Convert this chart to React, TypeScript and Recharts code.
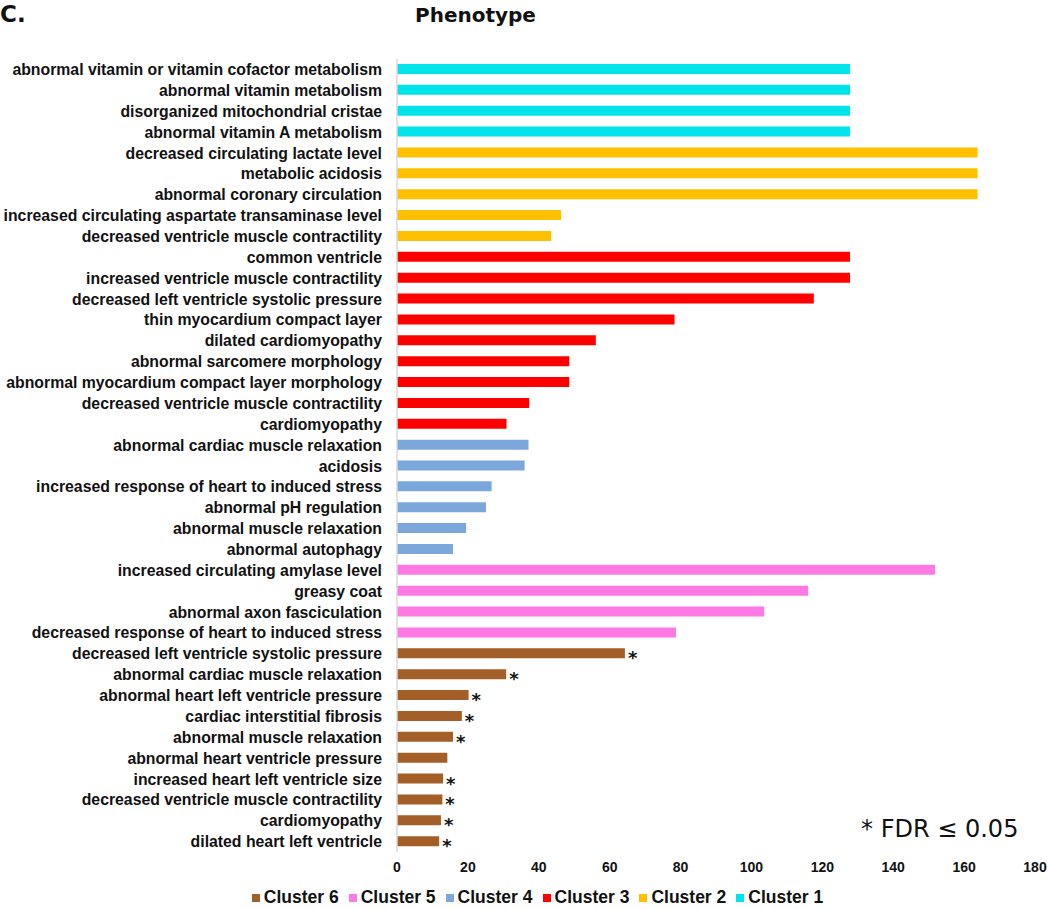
import { Bar, BarChart, Legend, Rectangle, XAxis, YAxis } from "recharts";

const phenotypes = [
  "abnormal vitamin or vitamin cofactor metabolism",
  "abnormal vitamin metabolism",
  "disorganized mitochondrial cristae",
  "abnormal vitamin A metabolism",
  "decreased circulating lactate level",
  "metabolic acidosis",
  "abnormal coronary circulation",
  "increased circulating aspartate transaminase level",
  "decreased ventricle muscle contractility",
  "common ventricle",
  "increased ventricle muscle contractility",
  "decreased left ventricle systolic pressure",
  "thin myocardium compact layer",
  "dilated cardiomyopathy",
  "abnormal sarcomere morphology",
  "abnormal myocardium compact layer morphology",
  "decreased ventricle muscle contractility",
  "cardiomyopathy",
  "abnormal cardiac muscle relaxation",
  "acidosis",
  "increased response of heart to induced stress",
  "abnormal pH regulation",
  "abnormal muscle relaxation",
  "abnormal autophagy",
  "increased circulating amylase level",
  "greasy coat",
  "abnormal axon fasciculation",
  "decreased response of heart to induced stress",
  "decreased left ventricle systolic pressure",
  "abnormal cardiac muscle relaxation",
  "abnormal heart left ventricle pressure",
  "cardiac interstitial fibrosis",
  "abnormal muscle relaxation",
  "abnormal heart ventricle pressure",
  "increased heart left ventricle size",
  "decreased ventricle muscle contractility",
  "cardiomyopathy",
  "dilated heart left ventricle",
];

const enrichment = [
  127.8, 127.8, 127.8, 127.8,
  163.8, 163.8, 163.8, 46.3, 43.5,
  127.8, 127.8, 117.6, 78.3, 56.1, 48.6, 48.6, 37.3, 30.9,
  37.1, 36.0, 26.7, 25.1, 19.5, 15.8,
  151.8, 116.0, 103.6, 78.7,
  64.3, 30.8, 20.2, 18.3, 15.8, 14.2, 13.0, 12.8, 12.4, 11.9,
];

const clusterOf = [
  1, 1, 1, 1,
  2, 2, 2, 2, 2,
  3, 3, 3, 3, 3, 3, 3, 3, 3,
  4, 4, 4, 4, 4, 4,
  5, 5, 5, 5,
  6, 6, 6, 6, 6, 6, 6, 6, 6, 6,
];

// FDR <= 0.05 marks (cluster 6 rows)
const significant = [
  false, false, false, false,
  false, false, false, false, false,
  false, false, false, false, false, false, false, false, false,
  false, false, false, false, false, false,
  false, false, false, false,
  true, true, true, true, true, false, true, true, true, true,
];

const legendOrder = [6, 5, 4, 3, 2, 1];
const clusterColors: Record<number, string> = {
  1: "#00E3EA",
  2: "#FFC000",
  3: "#FF0000",
  4: "#7BA7DC",
  5: "#FF79E4",
  6: "#A45E27",
};
const xTicks = [0, 20, 40, 60, 80, 100, 120, 140, 160, 180];

const rows = phenotypes.map((name, i) => {
  const row: Record<string, number | string | undefined> = { id: i, name, star: significant[i] ? 1 : 0 };
  row["c" + clusterOf[i]] = enrichment[i];
  return row;
});

const labelFont = "'Liberation Sans', Arial, sans-serif";

function StarBar(props: any) {
  const { x, y, width, height, fill, payload } = props;
  if (!width) return null;
  return (
    <g>
      <Rectangle x={x} y={y} width={width} height={height} fill={fill} />
      {payload && payload.star ? (
        <text x={x + width + 3} y={y + height / 2 + 11} fontSize={18} fontWeight="bold" fill="#111" fontFamily="'DejaVu Sans', sans-serif">
          *
        </text>
      ) : null}
    </g>
  );
}

export default function App() {
  return (
    <div style={{ position: "absolute", left: 0, top: 0, width: 1050, height: 909, background: "#fff" }}>
      <div style={{ position: "absolute", left: 0, top: -1, fontFamily: "'DejaVu Sans', sans-serif", fontWeight: 700, fontSize: 23, color: "#111", lineHeight: "30px" }}>
        C.
      </div>
      <div style={{ position: "absolute", left: 415, top: 0, fontFamily: "'DejaVu Sans', sans-serif", fontWeight: 700, fontSize: 20, color: "#111", lineHeight: "30px" }}>
        Phenotype
      </div>
      <div style={{ position: "absolute", left: 861, top: 814, fontFamily: "'DejaVu Sans', sans-serif", fontSize: 24, color: "#111", lineHeight: "30px" }}>
        * FDR ≤ 0.05
      </div>
      <BarChart
        width={1050}
        height={909}
        data={rows}
        layout="vertical"
        margin={{ top: 59, right: 15, left: 0, bottom: 1 }}
        barSize={10}
      >
        <XAxis
          type="number"
          domain={[0, 180]}
          ticks={xTicks}
          axisLine={false}
          tickLine={false}
          tickSize={0}
          tickMargin={10}
          height={35}
          tick={{ fill: "#111", fontSize: 14, fontWeight: "bold", fontFamily: labelFont }}
        />
        <YAxis
          type="category"
          dataKey="id"
          width={397}
          tickFormatter={(v: number) => phenotypes[v]}
          interval={0}
          axisLine={{ stroke: "#d9d9d9", strokeWidth: 1.5 }}
          tickLine={false}
          tickSize={0}
          tickMargin={15}
          tick={{ fill: "#111", fontSize: 15.8, fontWeight: "bold", fontFamily: labelFont }}
        />
        <Legend
          verticalAlign="bottom"
          iconType="square"
          iconSize={8}
          itemSorter={(item: any) => legendOrder.indexOf(Number(String(item.value).replace("Cluster ", "")))}
          formatter={(v: string) => <span style={{ color: "#111" }}>{v}</span>}
          wrapperStyle={{ fontFamily: labelFont, fontSize: 17.5, fontWeight: "bold", left: 0, width: 1085 }}
        />
        {legendOrder.map((c) => (
          <Bar
            key={c}
            dataKey={"c" + c}
            name={"Cluster " + c}
            stackId="s"
            fill={clusterColors[c]}
            isAnimationActive={false}
            shape={c === 6 ? <StarBar /> : undefined}
          />
        ))}
      </BarChart>
    </div>
  );
}
